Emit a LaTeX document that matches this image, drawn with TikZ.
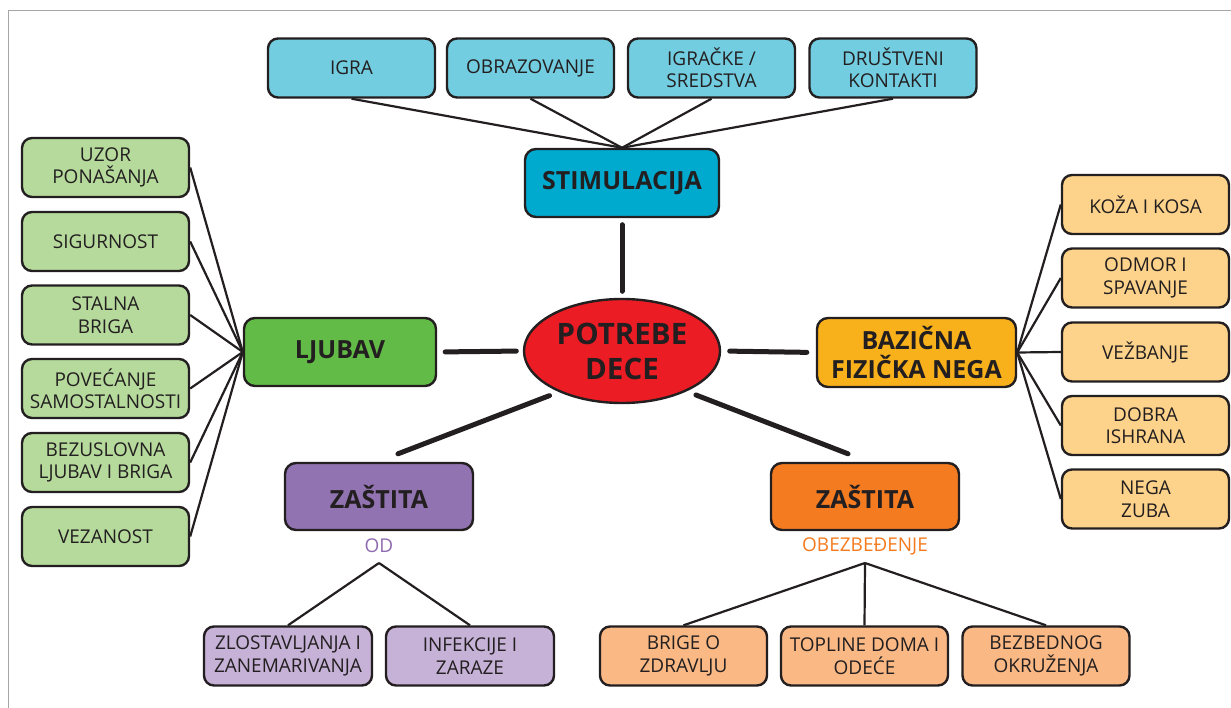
\documentclass[tikz,border=0pt]{standalone}
\usepackage{fontspec}
\setmainfont{Open Sans}
\usetikzlibrary{calc,shapes.geometric}
\definecolor{ink}{HTML}{231F20}
\definecolor{framec}{HTML}{A6A6A6}
\definecolor{topc}{HTML}{72CDE0}
\definecolor{stimc}{HTML}{00A9CE}
\definecolor{greenl}{HTML}{B5DA9C}
\definecolor{greend}{HTML}{62BB46}
\definecolor{orl}{HTML}{FDD28A}
\definecolor{bazc}{HTML}{F9B11B}
\definecolor{purd}{HTML}{9173B1}
\definecolor{purl}{HTML}{C6B1D7}
\definecolor{orad}{HTML}{F47B20}
\definecolor{salm}{HTML}{F9B884}
\definecolor{redc}{HTML}{EC1C24}
\definecolor{odc}{HTML}{8E6BB0}
\begin{document}
\begin{tikzpicture}[x=1pt,y=-1pt,
  leaf/.style={draw=ink, line width=2.4pt, rounded corners=10pt, minimum width=167pt, minimum height=59pt,
    align=center, text=ink, inner sep=0pt, font=\fontsize{19}{22.5}\selectfont},
  hub/.style={draw=ink, line width=2.4pt, rounded corners=11pt, align=center, text=ink, inner sep=0pt,
    font=\bfseries\fontsize{25}{29}\selectfont},
  thinline/.style={draw=ink, line width=2.2pt},
  thickline/.style={draw=ink, line width=5pt, line cap=round},
  sublabel/.style={font=\fontsize{19}{20}\selectfont, inner sep=0pt}
]
\useasboundingbox (0,0) rectangle (1231,708);
\draw[framec, line width=1.3pt] (8.5,708) -- (8.5,10.5) -- (1231,10.5);

% top
\node[leaf, fill=topc] (t1) at (351.5,68) {IGRA};
\node[leaf, fill=topc] (t2) at (530.5,68) {OBRAZOVANJE};
\node[leaf, fill=topc] (t3) at (711.5,68) {IGRAČKE /\\SREDSTVA};
\node[leaf, fill=topc] (t4) at (893,68) {DRUŠTVENI\\KONTAKTI};
\node[hub, fill=stimc, minimum width=194pt, minimum height=68pt] (stim) at (622,183) {STIMULACIJA};

% center
\node[ellipse, draw=ink, line width=2.4pt, fill=redc, minimum width=196pt, minimum height=104pt, inner sep=0pt,
  align=center, text=ink, font=\bfseries\fontsize{29.5}{35}\selectfont] (ell) at (622,351) {POTREBE\\DECE};

% left
\node[hub, fill=greend, minimum width=192pt, minimum height=68pt] (lj) at (340,352) {LJUBAV};
\node[leaf, fill=greenl] (g1) at (105.5,167.5) {UZOR\\PONAŠANJA};
\node[leaf, fill=greenl] (g2) at (105.5,241.5) {SIGURNOST};
\node[leaf, fill=greenl] (g3) at (105.5,315) {STALNA\\BRIGA};
\node[leaf, fill=greenl] (g4) at (105.5,388.5) {POVEĆANJE\\SAMOSTALNOSTI};
\node[leaf, fill=greenl] (g5) at (105.5,462.5) {BEZUSLOVNA\\LJUBAV I BRIGA};
\node[leaf, fill=greenl] (g6) at (105.5,536.5) {VEZANOST};

% right
\node[hub, fill=bazc, minimum width=199pt, minimum height=69pt] (baz) at (916.5,352.5) {BAZIČNA\\FIZIČKA NEGA};
\node[leaf, fill=orl] (r1) at (1145.5,204.5) {KOŽA I KOSA};
\node[leaf, fill=orl] (r2) at (1145.5,278) {ODMOR I\\SPAVANJE};
\node[leaf, fill=orl] (r3) at (1145.5,352) {VEŽBANJE};
\node[leaf, fill=orl] (r4) at (1145.5,425.5) {DOBRA\\ISHRANA};
\node[leaf, fill=orl] (r5) at (1145.5,499) {NEGA\\ZUBA};

% bottom left
\node[hub, fill=purd, minimum width=188pt, minimum height=67pt] (zp) at (379,496.5) {ZAŠTITA};
\node[sublabel, text=odc] (od) at (379,546) {OD};
\coordinate (ap) at (379,563);
\node[leaf, fill=purl, minimum width=168pt] (p1) at (288,656) {ZLOSTAVLJANJA I\\ZANEMARIVANJA};
\node[leaf, fill=purl, minimum width=168pt] (p2) at (470,656) {INFEKCIJE I\\ZARAZE};

% bottom right
\node[hub, fill=orad, minimum width=188pt, minimum height=67pt] (zo) at (865,496.5) {ZAŠTITA};
\node[sublabel, text=orad] (ob) at (865,546) {OBEZBEĐENJE};
\coordinate (ao) at (865,563);
\node[leaf, fill=salm] (o1) at (683.5,656) {BRIGE O\\ZDRAVLJU};
\node[leaf, fill=salm] (o2) at (864.5,656) {TOPLINE DOMA I\\ODEĆE};
\node[leaf, fill=salm] (o3) at (1046,656) {BEZBEDNOG\\OKRUŽENJA};

% thin connectors
\foreach \n in {t1,t2,t3,t4} \draw[thinline] (\n.south) -- (stim.north);
\foreach \n in {g1,g2,g3,g4,g5,g6} \draw[thinline] (\n.east) -- (lj.west);
\foreach \n in {r1,r2,r3,r4,r5} \draw[thinline] (baz.east) -- (\n.west);
\foreach \n in {p1,p2} \draw[thinline] (ap) -- (\n.north);
\foreach \n in {o1,o2,o3} \draw[thinline] (ao) -- (\n.north);

% thick connectors
\draw[thickline, shorten <=6.5pt, shorten >=6.5pt] (stim.south) -- (ell.north);
\draw[thickline, shorten <=8pt, shorten >=6.5pt] (lj.east) -- (ell.west);
\draw[thickline, shorten <=8.5pt, shorten >=9pt] (ell.east) -- (baz.west);
\draw[thickline, shorten <=10pt] (ell.213) -- ($(zp.north)+(19,-8)$);
\draw[thickline, shorten <=10pt] (ell.-32) -- ($(zo.north)+(-17,-8)$);
\end{tikzpicture}
\end{document}
